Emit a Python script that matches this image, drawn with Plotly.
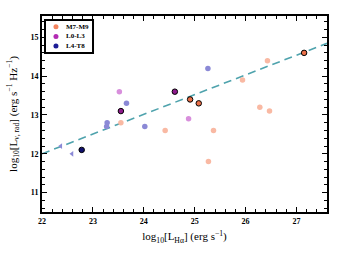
import numpy as np
import plotly.graph_objects as go

# M7-M9
m_faded_x = [23.55, 24.42, 25.27, 25.37, 25.94, 26.28, 26.43, 26.47]
m_faded_y = [12.8, 12.6, 11.8, 12.6, 13.9, 13.2, 14.4, 13.1]
m_hl_x = [24.91, 25.08, 27.15]
m_hl_y = [13.4, 13.3, 14.6]
# L0-L3
l_faded_x = [23.52, 24.88]
l_faded_y = [13.6, 12.9]
l_hl_x = [23.55, 24.61]
l_hl_y = [13.1, 13.6]
# L4-T8
t_faded_x = [23.66, 23.28, 23.27, 24.02, 25.26]
t_faded_y = [13.3, 12.8, 12.7, 12.7, 14.2]
t_lim_x = [22.37, 22.59]
t_lim_y = [12.2, 12.0]
t_hl_x = [22.78]
t_hl_y = [12.1]
# fit
fit_intercept = 12.0
fit_slope = 0.508
fit_x = np.array([22.0, 27.6])
fit_y = fit_intercept + fit_slope * (fit_x - 22.0)

legend_names = ["M7-M9", "L0-L3", "L4-T8"]
legend_colors = ["#f4845f", "#b32bb3", "#1c1c96"]

SERIF = "Liberation Serif, DejaVu Serif, serif"

fig = go.Figure()
fig.add_trace(go.Scatter(x=fit_x, y=fit_y, mode="lines", showlegend=False,
                         line=dict(color="#4fa3ad", width=1.6, dash="8px,5px")))

def faded(x, y, c, sym="circle", size=5.5):
    fig.add_trace(go.Scatter(x=x, y=y, mode="markers", showlegend=False,
                             marker=dict(color=c, size=size, symbol=sym, line=dict(width=0))))

faded(m_faded_x, m_faded_y, "#f9b9a3")
faded(l_faded_x, l_faded_y, "#d88fdc")
faded(t_faded_x, t_faded_y, "#8b89d6")
faded(t_lim_x, t_lim_y, "#8b89d6", sym="triangle-left", size=5)

def hl(x, y, c):
    fig.add_trace(go.Scatter(x=x, y=y, mode="markers", showlegend=False,
                             marker=dict(color=c, size=5.5, line=dict(color="black", width=1))))

hl(m_hl_x, m_hl_y, "#ea7048")
hl(l_hl_x, l_hl_y, "#8e1a8c")
hl(t_hl_x, t_hl_y, "#10106e")

# manual legend (compact, like matplotlib)
fig.add_shape(type="rect", xref="x domain", yref="y domain", x0=0.0105, x1=0.179, y0=0.811, y1=0.98,
              line=dict(color="black", width=2), fillcolor="white", layer="above")
for i, (name, c) in enumerate(zip(legend_names, legend_colors)):
    yy = 0.945 - i * 0.049
    fig.add_shape(type="circle", xref="x domain", yref="y domain", xsizemode="pixel", ysizemode="pixel",
                  xanchor=0.049, yanchor=yy, x0=-2.5, x1=2.5, y0=-2.5, y1=2.5,
                  fillcolor=c, line=dict(width=0), layer="above")
    fig.add_annotation(xref="x domain", yref="y domain", x=0.078, y=yy, text=name, showarrow=False,
                       xanchor="left", yanchor="middle",
                       font=dict(family=SERIF, size=7, color="black", weight="bold"))

axis_common = dict(showline=True, linecolor="black", linewidth=2, mirror="allticks",
                   ticks="inside", ticklen=5, tickwidth=1, tickcolor="black",
                   showgrid=False, zeroline=False, automargin=False,
                   tickfont=dict(family=SERIF, size=8, color="black", weight="bold"),
                   minor=dict(ticks="inside", ticklen=3, tickcolor="black", tickwidth=1, dtick=0.2))

fig.update_xaxes(range=[22, 27.6], dtick=1, tick0=22,
                 title=dict(text="log<sub>10</sub>[L<sub>Hα</sub>] (erg s<sup>−1</sup>)",
                            font=dict(family=SERIF, size=11, color="black"), standoff=8),
                 **axis_common)
fig.update_yaxes(range=[10.5, 15.55], dtick=1, tick0=11,
                 title=dict(text="log<sub>10</sub>[L<sub>ν, rad</sub>] (erg s<sup>−1</sup> Hz<sup>−1</sup>)",
                            font=dict(family=SERIF, size=11, color="black"), standoff=11),
                 **axis_common)

fig.update_layout(width=345, height=259, margin=dict(l=42, r=18, t=16, b=47),
                  plot_bgcolor="white", paper_bgcolor="white", showlegend=False)
fig.write_html("out.html", config={"displayModeBar": False},
               post_script="document.body.style.margin='0px';document.body.style.overflow='hidden';")
